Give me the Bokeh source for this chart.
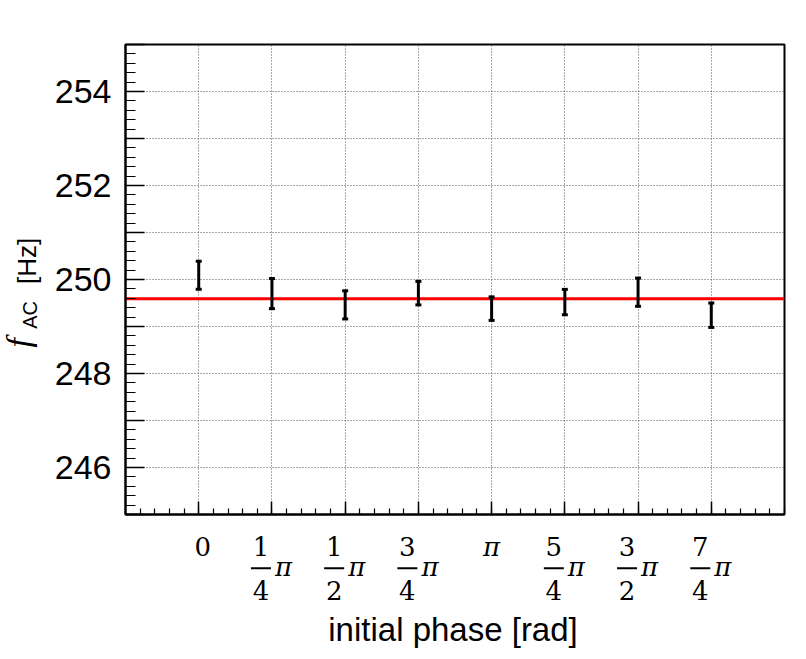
import numpy as np
from bokeh.plotting import figure
from bokeh.layouts import column, row
from bokeh.models import (ColumnDataSource, Whisker, TeeHead, Span, FixedTicker, Range1d)
from bokeh.core.properties import value
from bokeh.embed import file_html
from bokeh.resources import INLINE

# ---------------- data ----------------
phase_index = [0, 1, 2, 3, 4, 5, 6, 7]            # initial phase = k * pi/4
tick_numerators = ["0", "1", "1", "3", "π", "5", "3", "7"]
tick_denominators = [None, "4", "2", "4", None, "4", "2", "4"]
f_ac = [250.09, 249.70, 249.46, 249.71, 249.38, 249.52, 249.73, 249.24]
f_err = [0.30, 0.32, 0.30, 0.25, 0.25, 0.27, 0.30, 0.26]
fit_value = 249.59
y_major = list(range(245, 256))
y_labels = {v: (str(v) if v % 2 == 0 else "") for v in y_major}
x_title = "initial phase [rad]"

# ---------------- layout constants (pixels) ----------------
W, H = 806, 659
LEFT_W = 50                 # y-title strip
TOP_H = 530                 # main figure height
FL, FT, FW, FH = 125, 44, 659, 470   # frame left/top/width/height on the page
X0, X1 = -1, 8
Y0, Y1 = 245, 255
PX_X = FW / (X1 - X0)
K_SANS, K_SERIF, K_ITAL = 0.367, 0.40, 0.34   # renderer's baseline shift (fraction of font size)

# ---------------- main figure ----------------
p = figure(width=W - LEFT_W, height=TOP_H, output_backend="svg", toolbar_location=None,
           x_range=Range1d(X0, X1), y_range=Range1d(Y0, Y1),
           min_border_left=FL - LEFT_W, min_border_right=W - FL - FW,
           min_border_top=FT, min_border_bottom=TOP_H - FT - FH)
p.background_fill_color = "white"
p.border_fill_color = "white"
p.outline_line_color = "black"
p.outline_line_width = 2

p.xaxis.ticker = FixedTicker(ticks=phase_index,
                             minor_ticks=[round(X0 + 0.2 * i, 2) for i in range(int((X1 - X0) / 0.2) + 1)])
p.yaxis.ticker = FixedTicker(ticks=y_major,
                             minor_ticks=[round(Y0 + 0.2 * i, 2) for i in range(int((Y1 - Y0) / 0.2) + 1)])
p.yaxis.major_label_overrides = y_labels
p.xaxis.major_label_overrides = {k: "" for k in phase_index}
p.xaxis.major_label_text_font_size = "0px"
p.xaxis.major_label_standoff = 0
for ax in (p.xaxis, p.yaxis):
    ax.axis_line_color = "black"
    ax.axis_line_width = 2
    ax.major_tick_line_color = "black"
    ax.minor_tick_line_color = "black"
    ax.major_tick_line_width = 1.5
    ax.minor_tick_line_width = 1.2
    ax.major_tick_out = 0
    ax.minor_tick_out = 0
p.yaxis.major_tick_in = 19
p.yaxis.minor_tick_in = 10
p.xaxis.major_tick_in = 13
p.xaxis.minor_tick_in = 6
p.yaxis.major_label_text_font = "Liberation Sans"
p.yaxis.major_label_text_font_size = "34px"
p.yaxis.major_label_text_color = "black"
p.yaxis.major_label_standoff = 14

for g in (p.xgrid, p.ygrid):
    g.grid_line_color = "#555555"
    g.grid_line_width = 1
    g.grid_line_dash = "1 2"

p.add_layout(Span(location=fit_value, dimension="width", line_color="#ff0000",
                  line_width=3, level="underlay"))

src = ColumnDataSource(dict(x=phase_index,
                            upper=[v + e for v, e in zip(f_ac, f_err)],
                            lower=[v - e for v, e in zip(f_ac, f_err)]))
p.add_layout(Whisker(base="x", upper="upper", lower="lower", source=src, dimension="height",
                     line_color="black", line_width=3, level="glyph",
                     upper_head=TeeHead(size=6, line_width=3, line_color="black"),
                     lower_head=TeeHead(size=6, line_width=3, line_color="black")))


def blank_fig(width, height, x_range, y_range):
    f = figure(width=width, height=height, output_backend="svg", toolbar_location=None,
               x_range=x_range, y_range=y_range, min_border=0)
    f.axis.visible = False
    f.grid.visible = False
    f.outline_line_color = None
    f.background_fill_color = "white"
    f.border_fill_color = "white"
    return f


# ---------------- x tick labels + x title (strip below) ----------------
BH = H - TOP_H
xb = blank_fig(W, BH, Range1d(X0 - FL / PX_X, X1 + (W - FL - FW) / PX_X), Range1d(0, BH))


def by(baseline_img_y, size, k):     # page baseline y -> strip anchor (measured upward)
    return BH - (baseline_img_y - k * size - TOP_H)


TF = value("DejaVu Serif")
DS, PS, PS1 = 26, 26, 26   # digit size, pi size in fractions, lone pi size
simple = [(k, n) for k, n, d in zip(phase_index, tick_numerators, tick_denominators) if d is None]
frac = [(k, n, d) for k, n, d in zip(phase_index, tick_numerators, tick_denominators) if d is not None]

for k, n in simple:
    if n == "π":
        xb.text(x=[k], y=[by(556.5, PS1, K_SERIF)], text=[n], text_align="center",
                text_baseline="alphabetic", text_font=TF, text_font_style="italic",
                text_font_size=f"{PS1}px", text_color="black")
    else:
        xb.text(x=[k], y=[by(556.7, DS, K_SERIF)], text=[n], x_offset=4, text_align="center",
                text_baseline="alphabetic", text_font=TF, text_font_size=f"{DS}px",
                text_color="black")
fk = [k for k, _, _ in frac]
xb.text(x=fk, y=[by(556.7, DS, K_SERIF)] * len(fk), text=[n for _, n, _ in frac], x_offset=-11,
        text_align="center", text_baseline="alphabetic", text_font=TF,
        text_font_size=f"{DS}px", text_color="black")
xb.text(x=fk, y=[by(600, DS, K_SERIF)] * len(fk), text=[d for _, _, d in frac], x_offset=-11,
        text_align="center", text_baseline="alphabetic", text_font=TF,
        text_font_size=f"{DS}px", text_color="black")
xb.rect(x=[k - 11 / PX_X for k in fk], y=[BH - (567.7 - TOP_H)] * len(fk), width=20, height=2,
        width_units="screen", height_units="screen", fill_color="black", line_color=None)
xb.text(x=fk, y=[by(577.3, PS, K_SERIF)] * len(fk), text=["π"] * len(fk), x_offset=3,
        text_align="left", text_baseline="alphabetic", text_font=TF,
        text_font_style="italic", text_font_size=f"{PS}px", text_color="black")
xb.text(x=[(X0 + X1) / 2], y=[by(641.5, 33, K_SANS)], text=[x_title], x_offset=-2,
        text_align="center", text_baseline="alphabetic", text_font=value("Liberation Sans"),
        text_font_size="33px", text_color="black")

# ---------------- y title (strip at left, rotated; text "down" = +x) ----------------
yt = blank_fig(LEFT_W, TOP_H, Range1d(0, LEFT_W), Range1d(0, TOP_H))
yt.text(x=[30 - K_ITAL * 34], y=[TOP_H - 341.7], text=["f"], angle=np.pi / 2, text_align="left",
        text_baseline="alphabetic", text_font=value("Liberation Serif"),
        text_font_style="italic", text_font_size="34px", text_color="black")
yt.text(x=[37.3 - K_SANS * 20], y=[TOP_H - 320.5], text=["AC"], angle=np.pi / 2, text_align="left",
        text_baseline="alphabetic", text_font=value("Liberation Sans"),
        text_font_size="20px", text_color="black")
yt.text(x=[36 - K_SANS * 26], y=[TOP_H - 270], text=["[Hz]"], angle=np.pi / 2, text_align="left",
        text_baseline="alphabetic", text_font=value("Liberation Sans"),
        text_font_size="26px", text_color="black")

layout = column(row(yt, p, spacing=0), xb, spacing=0)
open("out.html", "w").write(file_html(layout, INLINE))
